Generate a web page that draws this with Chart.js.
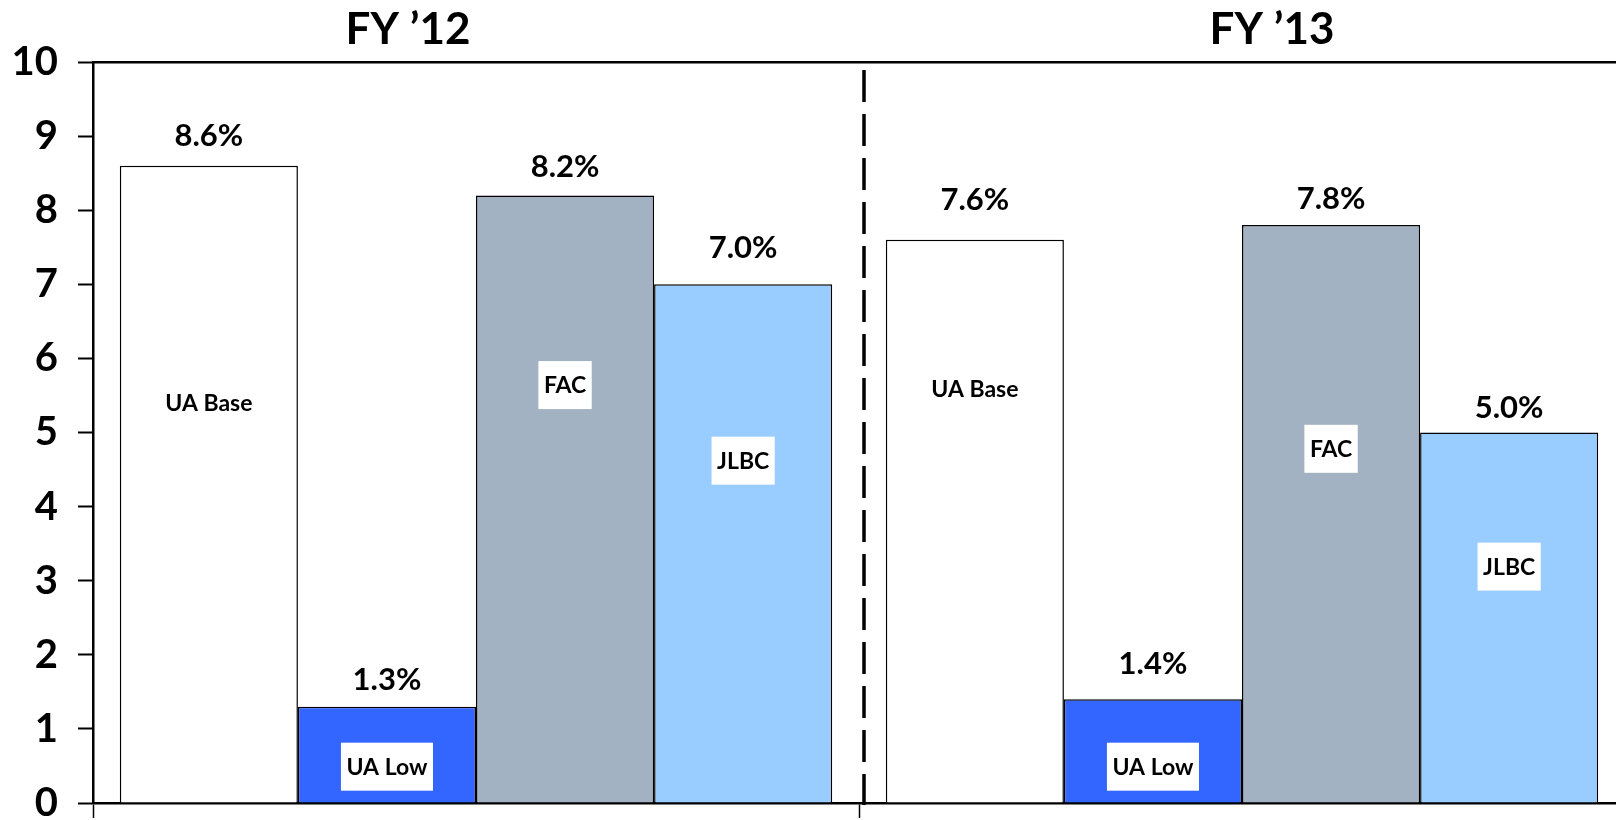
<!DOCTYPE html>
<html>
<head>
<meta charset="utf-8">
<script src="https://cdn.jsdelivr.net/npm/chart.js@4/dist/chart.umd.min.js"></script>
<style>
  html, body { margin: 0; padding: 0; background: #fff; overflow: hidden; }
  #wrap { width: 1640px; height: 820px; }
</style>
</head>
<body>
<div id="wrap"><canvas id="c" width="1640" height="820"></canvas></div>
<script>
// ---- data ----
const categories = ["FY \u201912", "FY \u201913"];
const seriesNames = ["UA Base", "UA Low", "FAC", "JLBC"];
const uaBase = [8.6, 7.6];
const uaLow  = [1.3, 1.4];
const fac    = [8.2, 7.8];
const jlbc   = [7.0, 5.0];
const yTicks = [0, 1, 2, 3, 4, 5, 6, 7, 8, 9, 10];

// ---- layout (label placement, not data) ----
const innerLabelAt = [[5.40, 5.59], [0.49, 0.49], [5.64, 4.78], [4.62, 3.19]];
const valueLabelLift = [[30, 40], [27, 35], [28, 26], [36, 25]];
const titleShift = [-68, 30];

const FONT = "Lato, 'Open Sans', 'DejaVu Sans', sans-serif";

const labelsPlugin = {
  id: 'labels',
  afterDatasetsDraw(chart) {
    const ctx = chart.ctx;
    const y = chart.scales.y;
    ctx.save();
    chart.data.datasets.forEach((ds, d) => {
      const meta = chart.getDatasetMeta(d);
      meta.data.forEach((bar, i) => {
        ctx.font = "bold 31px " + FONT;
        ctx.fillStyle = "#000";
        ctx.textAlign = "center";
        ctx.textBaseline = "middle";
        ctx.fillText(ds.data[i].toFixed(1) + "%", bar.x, bar.y - valueLabelLift[d][i]);
        const ly = y.getPixelForValue(innerLabelAt[d][i]);
        ctx.font = "bold 23px " + FONT;
        const w = ctx.measureText(ds.label).width;
        const bw = w + 11, bh = 48;
        ctx.fillStyle = "#fff";
        ctx.fillRect(bar.x - bw / 2, ly - bh / 2, bw, bh);
        ctx.fillStyle = "#000";
        ctx.fillText(ds.label, bar.x, ly + 1);
      });
    });
    ctx.restore();
  },
  afterDraw(chart) {
    const ctx = chart.ctx;
    const x = chart.scales.x;
    const area = chart.chartArea;
    ctx.save();
    const mid = (x.getPixelForValue(0) + x.getPixelForValue(1)) / 2 + 5;
    ctx.strokeStyle = "#000";
    ctx.lineWidth = 3.5;
    ctx.setLineDash([32, 12]);
    ctx.beginPath();
    ctx.moveTo(mid, area.top + 8);
    ctx.lineTo(mid, area.bottom + 2);
    ctx.stroke();
    ctx.setLineDash([]);
    ctx.font = "bold 44px " + FONT;
    ctx.fillStyle = "#000";
    ctx.textAlign = "center";
    ctx.textBaseline = "middle";
    categories.forEach((c, i) => {
      ctx.fillText(c, x.getPixelForValue(i) + titleShift[i], 30);
    });
    ctx.restore();
  }
};

const colors = ["#FFFFFF", "#3366FF", "#A3B2C2", "#99CCFF"];
const values = [uaBase, uaLow, fac, jlbc];

new Chart(document.getElementById('c'), {
  type: 'bar',
  data: {
    labels: categories,
    datasets: seriesNames.map((n, k) => ({
      label: n,
      data: values[k],
      backgroundColor: colors[k],
      borderColor: "#000",
      borderWidth: 1.5,
      categoryPercentage: 0.93,
      barPercentage: 1.0
    }))
  },
  options: {
    responsive: false,
    animation: false,
    layout: { padding: { left: 0, right: 15, top: 0, bottom: 0 } },
    plugins: { legend: { display: false }, tooltip: { enabled: false }, title: { display: false } },
    scales: {
      x: {
        position: 'bottom',
        grid: { offset: true, drawOnChartArea: false, drawTicks: true, tickLength: 15, tickColor: "#000", tickWidth: 1.5 },
        border: { display: true, color: "#000", width: 2.5 },
        ticks: { display: false },
        afterFit(s) { s.height = 17; s.paddingLeft = 0; s.paddingRight = 0; }
      },
      x2: {
        type: 'category',
        position: 'top',
        grid: { display: false },
        border: { display: true, color: "#000", width: 2.5 },
        ticks: { display: false },
        afterFit(s) { s.height = 62; s.paddingLeft = 0; s.paddingRight = 0; }
      },
      y: {
        min: 0, max: 10,
        afterBuildTicks(s) { s.ticks = yTicks.map(v => ({ value: v })); },
        grid: { drawOnChartArea: false, drawTicks: true, tickLength: 15, tickColor: "#000", tickWidth: 2 },
        border: { display: true, color: "#000", width: 2.5 },
        ticks: { color: "#000", padding: 20, font: { family: FONT, size: 40, weight: 'bold' } },
        afterFit(s) { s.width = 93; s.paddingTop = 0; s.paddingBottom = 0; }
      }
    }
  },
  plugins: [labelsPlugin]
});
</script>
</body>
</html>
